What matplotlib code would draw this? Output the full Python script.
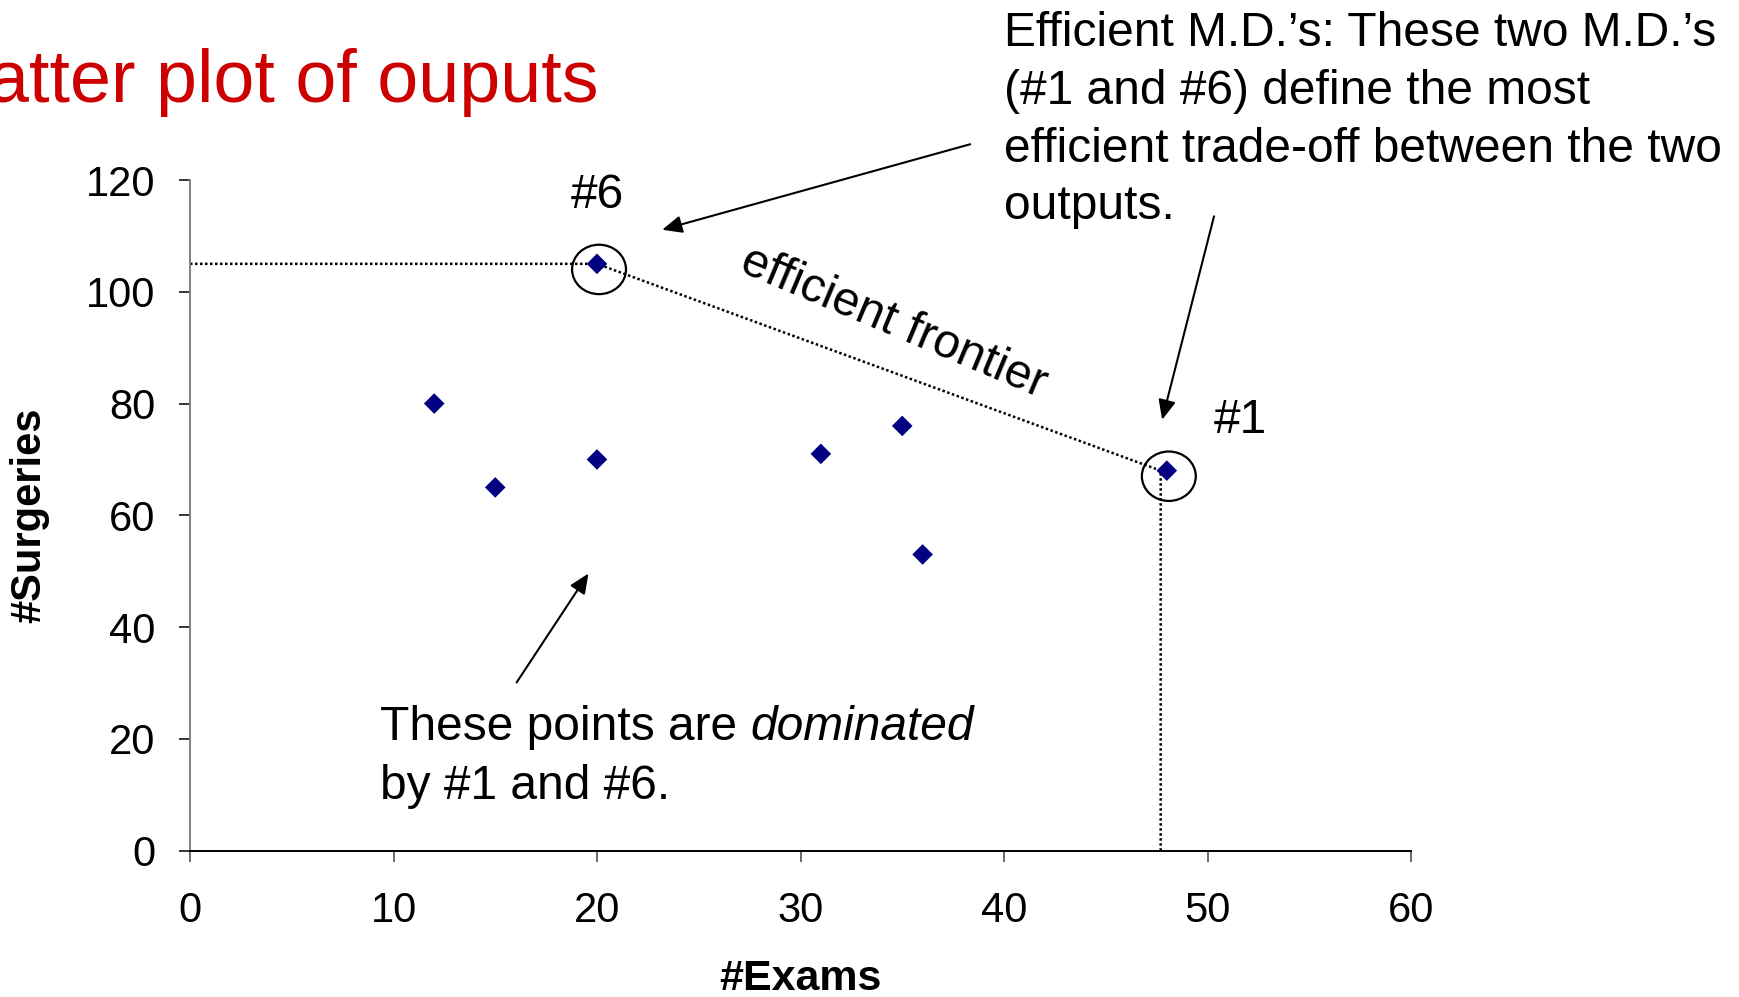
import matplotlib
matplotlib.use("Agg")
import matplotlib.pyplot as plt
from matplotlib.patches import Ellipse

plt.rcParams["font.family"] = ["Liberation Sans", "DejaVu Sans"]

# Outputs per physician (M.D.)
md_ids = [2, 3, 4, 5, 7, 8, 6, 1]
exams = [12, 15, 20, 31, 35, 36, 20, 48]
surgeries = [80, 65, 70, 71, 76, 53, 105, 68]

# Efficient frontier through M.D. #6 and M.D. #1
frontier_exams = [0, 20, 47.7, 47.7]
frontier_surgeries = [105, 105, 68, 0]

x_ticks = [0, 10, 20, 30, 40, 50, 60]
y_ticks = [0, 20, 40, 60, 80, 100, 120]

W, H = 1740, 997
fig = plt.figure(figsize=(W / 100, H / 100), dpi=100)
ax = fig.add_axes([190 / W, 1 - 850.7 / H, (1411 - 190) / W, (850.7 - 180) / H])

ax.set_xlim(0, 60)
ax.set_ylim(0, 120)
ax.set_xticks(x_ticks)
ax.set_yticks(y_ticks)

for side in ("top", "right"):
    ax.spines[side].set_visible(False)
ax.spines["left"].set_color("#808080")
ax.spines["left"].set_linewidth(1.4)
ax.spines["bottom"].set_color("black")
ax.spines["bottom"].set_linewidth(1.4)

ax.tick_params(axis="y", direction="out", length=8, width=1.1, color="black",
               labelsize=30, pad=17)
ax.tick_params(axis="x", direction="out", length=8, width=1.1, color="#404040",
               labelsize=30, pad=21)

ax.set_xlabel("#Exams", fontsize=31, fontweight="bold", labelpad=20)
ax.set_ylabel("#Surgeries", fontsize=30, fontweight="bold", labelpad=26)

# Frontier (dotted)
ax.plot(frontier_exams, frontier_surgeries, linestyle=(0, (1, 1)), color="black",
        lw=1.8, clip_on=False, zorder=2)

# Physicians
ax.scatter(exams, surgeries, marker="D", s=10.5 ** 2, color="#000080",
           edgecolors="none", zorder=3, clip_on=False)

# Circles around the efficient M.D.'s
for ex, sg in [(20, 105), (48, 68)]:
    ax.add_patch(Ellipse((ex + 0.1, sg - 1.0), width=2.65, height=8.84, fill=False,
                         ec="black", lw=1.6, clip_on=False, zorder=4))

txt = dict(fontsize=34.5, color="black")
ax.text(20, 115.0, "#6", ha="center", va="baseline", **txt)
ax.text(51.6, 74.8, "#1", ha="center", va="baseline", **txt)

ax.text(34.6, 94.4, "efficient frontier", rotation=-22.8, rotation_mode="anchor",
        ha="center", va="center", **txt)

# Explanatory note, top right
note_lines = [
    "Efficient M.D.\u2019s: These two M.D.\u2019s",
    "(#1 and #6) define the most",
    "efficient trade-off between the two",
    "outputs.",
]
for i, line in enumerate(note_lines):
    ax.annotate(line, xy=(39.98, 143.9), xycoords="data",
                xytext=(0, -i * 41.5), textcoords="offset points",
                ha="left", va="baseline", annotation_clip=False, **txt)

# Note on dominated points
t1 = ax.text(9.36, 19.8, "These points are ", ha="left", va="baseline", **txt)
ax.annotate("dominated", xy=(1, 0), xycoords=t1, ha="left", va="bottom",
            style="italic", **txt)
ax.text(9.36, 9.25, "by #1 and #6.", ha="left", va="baseline", **txt)

arrow = dict(arrowstyle="-|>,head_length=0.5,head_width=0.22", color="black",
             lw=1.5, mutation_scale=24, shrinkA=0, shrinkB=0)
ax.annotate("", xy=(23.2, 111.1), xytext=(38.34, 126.4), arrowprops=arrow,
            annotation_clip=False)
ax.annotate("", xy=(47.77, 77.1), xytext=(50.32, 113.5), arrowprops=arrow,
            annotation_clip=False)
ax.annotate("", xy=(19.58, 49.6), xytext=(16.05, 30.1), arrowprops=arrow,
            annotation_clip=False)

# Slide heading
fig.text(599 / W, 1 - 102 / H, "Scatter plot of ouputs", ha="right", va="baseline",
         fontsize=53, color="#CC0000")

fig.savefig("out.png", dpi=100)
